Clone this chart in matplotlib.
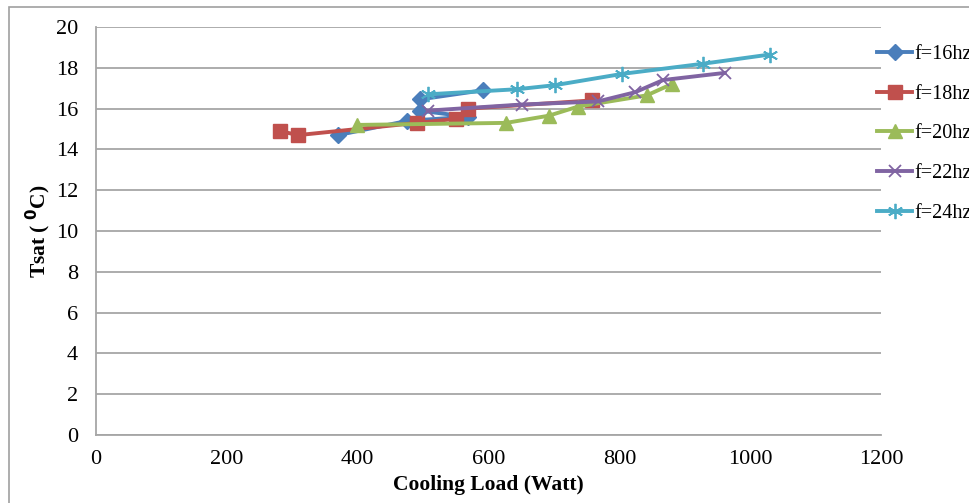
import matplotlib
matplotlib.use("Agg")
import matplotlib.pyplot as plt
from matplotlib.patches import Rectangle

plt.rcParams['font.family'] = ['Liberation Serif', 'DejaVu Serif']

# data
x16 = [370, 476, 568, 495, 495, 592]
y16 = [14.7, 15.4, 15.6, 15.9, 16.45, 16.9]
x18 = [281, 309, 491, 551, 569, 758]
y18 = [14.9, 14.7, 15.3, 15.5, 16.0, 16.4]
x20 = [399, 627, 692, 737, 842, 880]
y20 = [15.2, 15.3, 15.65, 16.1, 16.65, 17.2]
x22 = [507, 651, 767, 824, 867, 961]
y22 = [15.9, 16.2, 16.35, 16.8, 17.4, 17.75]
x24 = [507, 644, 702, 804, 928, 1030]
y24 = [16.7, 16.95, 17.15, 17.7, 18.2, 18.65]
labels = ["f=16hz", "f=18hz", "f=20hz", "f=22hz", "f=24hz"]

fig = plt.figure(figsize=(9.7, 5.03), dpi=100)
ax = fig.add_axes([96/970, 1-435/503, (881-96)/970, (435-27)/503])

# outer chart border
fig.patches.append(Rectangle((9/970, -0.05), 1.2, 1-7/503+0.05, transform=fig.transFigure,
                             fill=False, edgecolor='#a0a0a0', lw=1.2))

lw = 2.8
ax.plot(x16, y16, color='#4A7EBB', lw=lw, marker='D', ms=8, label=labels[0])
ax.plot(x18, y18, color='#C0504D', lw=lw, marker='s', ms=10, label=labels[1])
ax.plot(x20, y20, color='#9BBB59', lw=lw, marker='^', ms=10, label=labels[2])
ax.plot(x22, y22, color='#8064A2', lw=lw, marker='x', ms=9, mew=1.3, label=labels[3])
ax.plot(x24, y24, color='#4BACC6', lw=lw, marker=(6, 2, 0), ms=11, mew=1.3, label=labels[4])

ax.set_xlim(0, 1200)
ax.set_ylim(0, 20)
ax.set_xticks(range(0, 1201, 200))
ax.set_yticks(range(0, 21, 2))
ax.grid(axis='y', color='#a6a6a6', lw=1.3)
ax.set_axisbelow(True)
for s in ['top', 'right']:
    ax.spines[s].set_visible(False)
for s in ['left', 'bottom']:
    ax.spines[s].set_color('#a6a6a6')
    ax.spines[s].set_linewidth(1.3)
ax.tick_params(axis='both', length=0, labelsize=16)
ax.tick_params(axis='y', pad=13)
ax.tick_params(axis='x', pad=11)

ax.set_xlabel("Cooling Load (Watt)", fontsize=15.5, fontweight='bold', labelpad=4)
ax.set_ylabel("Tsat ( $^{\\mathbf{0}}$C)", fontsize=15.5, fontweight='bold', labelpad=2)

fig.legend(loc='upper left', bbox_to_anchor=(869/970, 1-37/503), frameon=False,
           fontsize=14.5, handlelength=1.75, handletextpad=0.1, labelspacing=1.02,
           borderaxespad=0)

fig.savefig("out.png", dpi=100)
